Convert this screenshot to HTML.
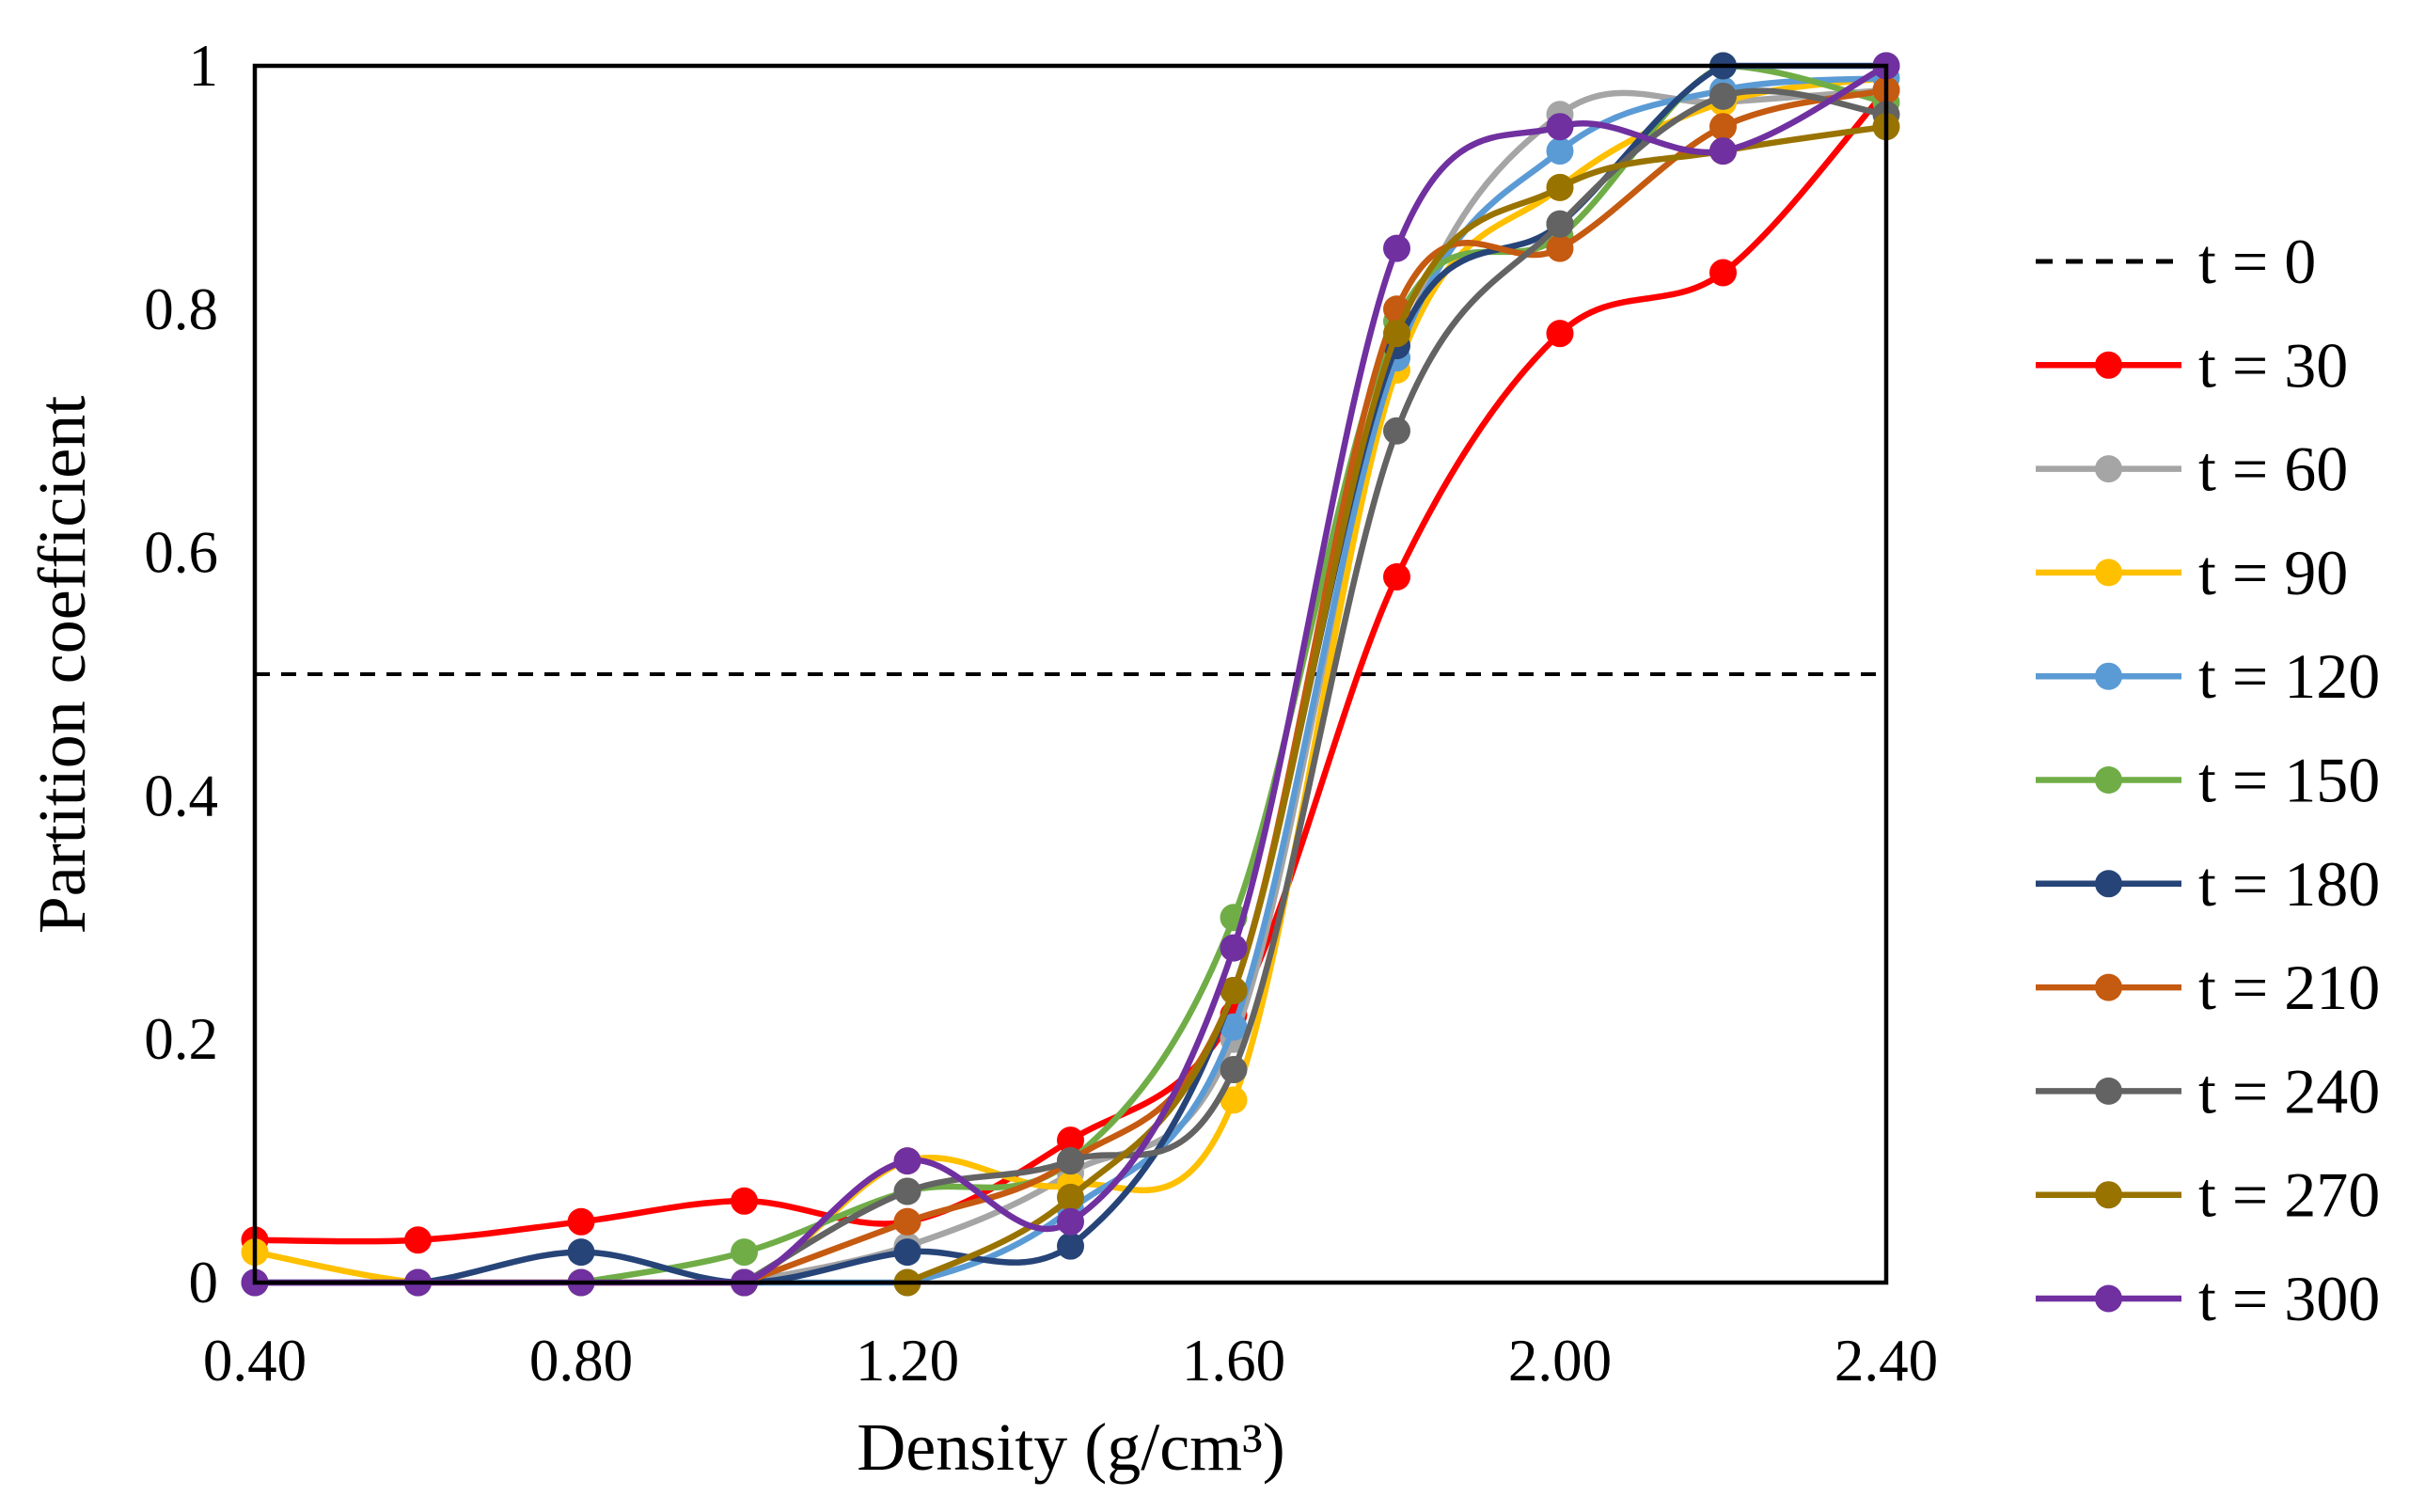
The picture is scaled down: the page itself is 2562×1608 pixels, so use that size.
<!DOCTYPE html>
<html><head><meta charset="utf-8"><style>
html,body{margin:0;padding:0;background:#fff;}
svg text{font-family:"Liberation Serif",serif;fill:#000;}
</style></head><body>
<svg id="chart" width="2562" height="1603" viewBox="0 0 2562 1603" xmlns="http://www.w3.org/2000/svg">
<rect width="2562" height="1603" fill="#fff"/>
<g id="plot"></g>
<g id="axes"></g>
<g id="legend"></g>
</svg>
<script>
const densities = [0.4, 0.6, 0.8, 1.0, 1.2, 1.4, 1.6, 1.8, 2.0, 2.2, 2.4];
const xTicks = [0.4, 0.8, 1.2, 1.6, 2.0, 2.4];
const xTickLabels = ["0.40", "0.80", "1.20", "1.60", "2.00", "2.40"];
const yTicks = [0, 0.2, 0.4, 0.6, 0.8, 1];
const yTickLabels = ["0", "0.2", "0.4", "0.6", "0.8", "1"];
const seriesNames = ["t = 30","t = 60","t = 90","t = 120","t = 150","t = 180","t = 210","t = 240","t = 270","t = 300"];
const seriesColors = ["#ff0000","#a5a5a5","#ffc000","#5b9bd5","#70ad47","#264478","#c55a11","#636363","#997300","#7030a0"];
const baselineValue = 0.5;
const t30  = [0.035,0.035,0.05,0.067,0.05,0.117,0.22,0.58,0.78,0.83,0.98];
const t60  = [null,null,null,0,0.03,0.09,0.2,0.76,0.96,0.97,0.98];
const t90  = [0.025,0,0,0,0.1,0.08,0.15,0.75,0.9,0.97,0.99];
const t120 = [null,null,null,0,0,0.06,0.21,0.76,0.93,0.98,0.99];
const t150 = [null,null,0,0.025,0.075,0.1,0.3,0.79,0.86,1.0,0.97];
const t180 = [0,0,0.025,0,0.025,0.03,0.24,0.77,0.87,1.0,1.0];
const t210 = [null,null,null,0,0.05,0.1,0.24,0.8,0.85,0.95,0.98];
const t240 = [null,null,null,0,0.075,0.1,0.175,0.7,0.87,0.975,0.96];
const t270 = [null,null,null,null,0,0.07,0.24,0.78,0.9,0.93,0.95];
const t300 = [0,0,0,0,0.1,0.05,0.275,0.85,0.95,0.93,1.0];
const seriesValues = [t30,t60,t90,t120,t150,t180,t210,t240,t270,t300];

const NS = "http://www.w3.org/2000/svg";
const L = 271, R = 2006, T = 70, B = 1364;
const xMin = 0.4, xMax = 2.4, yMin = 0, yMax = 1;
function xs(v){ return L + (v - xMin) / (xMax - xMin) * (R - L); }
function ys(v){ return B - (v - yMin) / (yMax - yMin) * (B - T); }
function mk(tag, attrs, parent){
  const e = document.createElementNS(NS, tag);
  for (const k in attrs) e.setAttribute(k, attrs[k]);
  parent.appendChild(e);
  return e;
}
const plot = document.getElementById('plot');
const axes = document.getElementById('axes');
const legend = document.getElementById('legend');

const base = mk('line', {x1:L, x2:R, y1:ys(baselineValue), y2:ys(baselineValue), stroke:'#000', 'stroke-width':4, 'stroke-dasharray':'16 12'}, plot);



function smoothPath(pts){
  if (pts.length < 2) return '';
  let d = 'M' + pts[0][0] + ',' + pts[0][1];
  for (let i = 0; i < pts.length - 1; i++){
    const p0 = pts[i-1] || pts[i], p1 = pts[i], p2 = pts[i+1], p3 = pts[i+2] || p2;
    const t = 1/6;
    let c1x = p1[0] + (p2[0]-p0[0])*t, c1y = p1[1] + (p2[1]-p0[1])*t;
    let c2x = p2[0] - (p3[0]-p1[0])*t, c2y = p2[1] - (p3[1]-p1[1])*t;
    c1y = Math.max(T, Math.min(B, c1y)); c2y = Math.max(T, Math.min(B, c2y));
    d += ' C' + c1x + ',' + c1y + ' ' + c2x + ',' + c2y + ' ' + p2[0] + ',' + p2[1];
  }
  return d;
}

seriesValues.forEach((vals, si) => {
  const g = mk('g', {}, plot);
  
  
  const pts = [];
  vals.forEach((v, i) => { if (v !== null) pts.push([xs(densities[i]), ys(v)]); });
  const p = mk('path', {d:smoothPath(pts), fill:'none', stroke:seriesColors[si], 'stroke-width':6.5, 'stroke-linejoin':'round'}, g);
  
  
  pts.forEach(pt => {
    const c = mk('circle', {cx:pt[0], cy:pt[1], r:14.5, fill:seriesColors[si]}, g);
    
    
  });
});

const frame = mk('rect', {x:L, y:T, width:R-L, height:B-T, fill:'none', stroke:'#000', 'stroke-width':4.5}, axes);



xTicks.forEach((v, i) => {
  const t = mk('text', {x:xs(v), y:1468, 'font-size':63, 'text-anchor':'middle'}, axes);
  t.textContent = xTickLabels[i];
  
  
});
yTicks.forEach((v, i) => {
  const t = mk('text', {x:232, y:ys(v)+21, 'font-size':63, 'text-anchor':'end'}, axes);
  t.textContent = yTickLabels[i];
  
  
});
const xt = mk('text', {x:1139, y:1563, 'font-size':72, 'text-anchor':'middle'}, axes);
xt.textContent = 'Density (g/cm³)';


const yt = mk('text', {x:0, y:0, 'font-size':72, 'text-anchor':'middle', transform:'translate(90,707) rotate(-90)'}, axes);
yt.textContent = 'Partition coefficient';



const lx1 = 2165, lx2 = 2320, tx = 2338, ly0 = 278, dy = 110.3;
const l0 = mk('g', {}, legend);


mk('line', {x1:lx1, x2:lx2, y1:ly0, y2:ly0, stroke:'#000', 'stroke-width':5, 'stroke-dasharray':'18 14'}, l0);
const l0t = mk('text', {x:tx, y:ly0+23, 'font-size':68}, l0);
l0t.textContent = 't = 0';
seriesNames.forEach((n, i) => {
  const y = ly0 + dy*(i+1);
  const g = mk('g', {}, legend);
  
  
  mk('line', {x1:lx1, x2:lx2, y1:y, y2:y, stroke:seriesColors[i], 'stroke-width':6.5}, g);
  mk('circle', {cx:(lx1+lx2)/2, cy:y, r:14.5, fill:seriesColors[i]}, g);
  const t = mk('text', {x:tx, y:y+23, 'font-size':68}, g);
  t.textContent = n;
});
</script>
</body></html>
